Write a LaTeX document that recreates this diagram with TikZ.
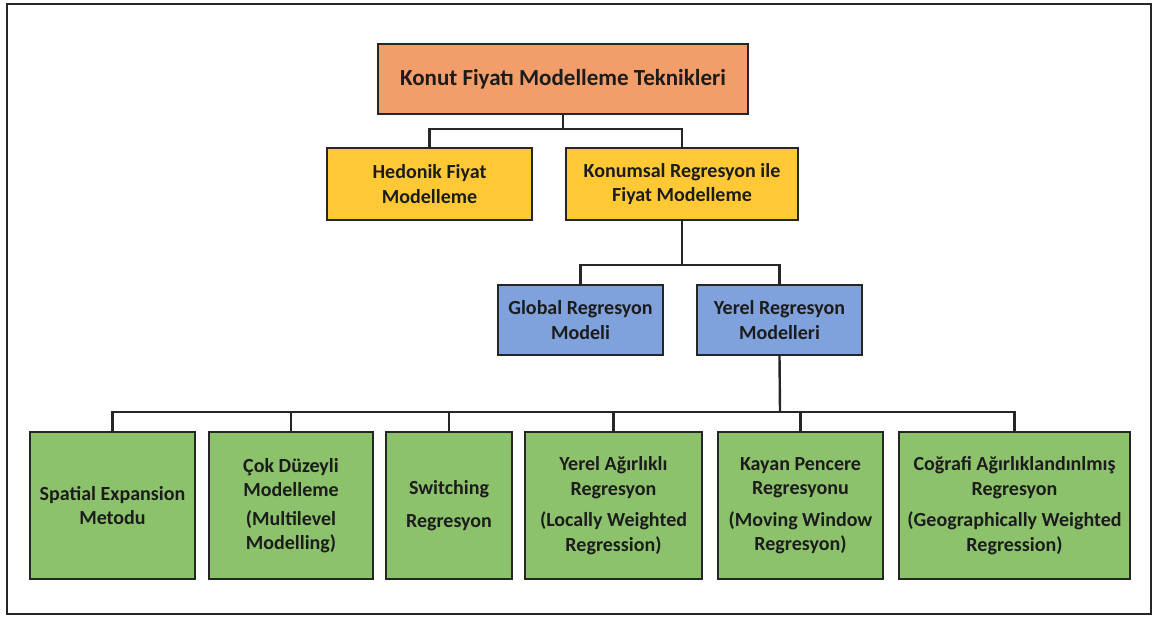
\documentclass[tikz,border=0pt]{standalone}
\usepackage{fontspec}
\setmainfont{Carlito}
\definecolor{orangebox}{HTML}{F19E6A}
\definecolor{yellowbox}{HTML}{FFC935}
\definecolor{bluebox}{HTML}{7FA1DC}
\definecolor{greenbox}{HTML}{8DC26C}
\definecolor{txt}{HTML}{1C1C1C}
\tikzset{
  box/.style={draw=black!85, line width=2.4pt, rectangle, align=center, inner sep=2pt,
    text=txt, font=\fontsize{20}{24.5}\selectfont\bfseries},
  topbox/.style={box, fill=orangebox, minimum width=370pt, minimum height=70pt,
    font=\fontsize{23}{27}\selectfont\bfseries},
  ybox/.style={box, fill=yellowbox, minimum height=72pt},
  bbox/.style={box, fill=bluebox, minimum height=70pt},
  gbox/.style={box, fill=greenbox, minimum height=147pt},
  conn/.style={draw=black!85, line width=2.4pt}
}
\begin{document}
\begin{tikzpicture}[x=1pt,y=-1pt]
\useasboundingbox (0,0) rectangle (1156,617);
\draw[line width=2.4pt, draw=black!85] (7,4) rectangle (1151,614);

\node[topbox] (top) at (563,79) {Konut Fiyatı Modelleme Teknikleri};

\node[ybox, minimum width=205pt] (hed) at (429.5,184) {Hedonik Fiyat\\Modelleme};
\node[ybox, minimum width=232pt] (kon) at (682,184) {Konumsal Regresyon ile\\Fiyat Modelleme};

\node[bbox, minimum width=165pt] (glob) at (580.5,320) {Global Regresyon\\Modeli};
\node[bbox, minimum width=165pt] (yer) at (779.5,320) {Yerel Regresyon\\Modelleri};

\node[gbox, minimum width=165pt] (g1) at (112.5,505.5) {Spatial Expansion\\Metodu};
\node[gbox, minimum width=164pt] (g2) at (291,505.5) {Çok Düzeyli\\Modelleme\\[4pt](Multilevel\\Modelling)};
\node[gbox, minimum width=126pt] (g3) at (449,505.5) {Switching\\[9pt]Regresyon};
\node[gbox, minimum width=177pt] (g4) at (613.5,505.5) {Yerel Ağırlıklı\\Regresyon\\[7pt](Locally Weighted\\Regression)};
\node[gbox, minimum width=165pt] (g5) at (800.5,505.5) {Kayan Pencere\\Regresyonu\\[7pt](Moving Window\\Regresyon)};
\node[gbox, minimum width=231pt] (g6) at (1014.5,505.5) {Coğrafi Ağırlıklandınlmış\\Regresyon\\[7pt](Geographically Weighted\\Regression)};

\coordinate (b1) at (563,129);
\coordinate (b2) at (682,265);
\coordinate (b3) at (780,412);

\draw[conn] (top.south) -- (b1);
\draw[conn] (hed.north) |- (b1) -| (kon.north);

\draw[conn] (kon.south) -- (b2);
\draw[conn] (glob.north) |- (b2) -| (yer.north);

\draw[conn] (yer.south) -- (b3);
\draw[conn] (g1.north) |- (b3) -| (g6.north);
\draw[conn] (g2.north) -- (g2.north |- b3);
\draw[conn] (g3.north) -- (g3.north |- b3);
\draw[conn] (g4.north) -- (g4.north |- b3);
\draw[conn] (g5.north) -- (g5.north |- b3);
\end{tikzpicture}
\end{document}
